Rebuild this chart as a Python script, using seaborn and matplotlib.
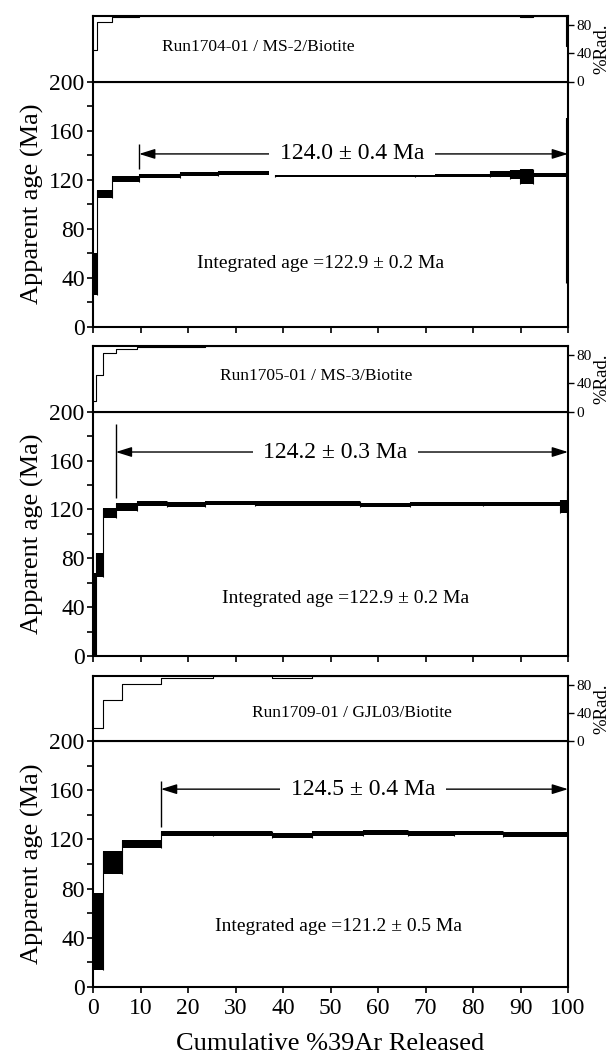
import matplotlib
matplotlib.use('Agg')
import matplotlib.pyplot as plt
import numpy as np
import seaborn as sns

# step boundaries (cumulative %39Ar), apparent ages, half widths, %Rad
bounds1 = [0, 0.8, 3.9, 9.7, 18.3, 26.4, 38.3, 67.8, 83.6, 87.8, 89.9, 92.6, 99.5, 100]
age1 = [43, 108.5, 120.5, 123.3, 124.5, 125.3, 123.8, 123.3, 124.6, 124.6, 122.7, 123.8, 103]
err1 = [17, 3.5, 2.3, 1.7, 1.7, 1.5, 1.6, 1.5, 2.5, 3.7, 6.3, 1.6, 67]
rad1 = [45, 85, 91, 92.5, 92.5, 92.5, 92.5, 92.5, 92.5, 92.5, 91.5, 92.5, 50]

bounds2 = [0, 0.6, 2.0, 4.8, 9.3, 15.5, 23.6, 34.1, 56.2, 66.7, 82, 98.3, 99.7, 100]
age2 = [30, 74.5, 117.3, 122, 125, 124, 125.5, 125, 123.3, 124.3, 124.5, 122.2, 125]
err2 = [38, 9.8, 4.1, 3, 2.2, 1.8, 1.8, 1.8, 1.6, 1.6, 1.6, 5.5, 11]
rad2 = [15, 52, 82.5, 88.6, 91.5, 92, 92.5, 92.5, 92.5, 92.5, 92.5, 92.5, 92.5]

bounds3 = [0, 2, 6, 14.3, 25.3, 37.6, 46, 56.9, 66.4, 75.9, 86.4, 100]
age3 = [45, 101.3, 116.2, 124.9, 125, 123.3, 125, 126, 125, 125.2, 124]
err3 = [31.4, 9.4, 3.4, 2, 2, 2.3, 2, 2, 2, 1.8, 1.7]
rad3 = [18.5, 58.7, 81, 89.5, 92.5, 90, 92.5, 92.5, 92.5, 92.5, 92.5]

run_labels = ['Run1704-01 / MS-2/Biotite', 'Run1705-01 / MS-3/Biotite', 'Run1709-01 / GJL03/Biotite']
plateau_labels = ['124.0 \u00b1 0.4 Ma', '124.2 \u00b1 0.3 Ma', '124.5 \u00b1 0.4 Ma']
integrated_labels = ['Integrated age =122.9 \u00b1 0.2 Ma', 'Integrated age =122.9 \u00b1 0.2 Ma',
                     'Integrated age =121.2 \u00b1 0.5 Ma']
plateau_start = [9.7, 4.8, 14.3]
plateau_tick = [(129, 149), (129, 190), (130.5, 168)]
plateau_y = [141, 167, 161]
plateau_text_x = [54.5, 51, 56.8]
run_pos = [(34.7, 49), (47, 50), (54.5, 40)]
integ_pos = [(48, 52), (53.2, 47), (51.6, 49)]

sns.set_theme(style='ticks', rc={'axes.edgecolor': 'black', 'xtick.color': 'black',
                                 'ytick.color': 'black', 'text.color': 'black',
                                 'axes.labelcolor': 'black'})
plt.rcParams['font.family'] = ['Liberation Serif', 'DejaVu Serif']
plt.rcParams['axes.linewidth'] = 1.5

fig = plt.figure(figsize=(6.13, 10.57), dpi=100)
H = 1057.0
L, W = 93 / 613, 475 / 613
# (top, boundary, bottom) in pixels
rows = [(16, 81.5, 327), (346, 411.7, 656), (676, 741.3, 986.7)]

data = [(bounds1, age1, err1, rad1), (bounds2, age2, err2, rad2), (bounds3, age3, err3, rad3)]

for i, ((top, mid, bot), (b, a, e, r)) in enumerate(zip(rows, data)):
    ax = fig.add_axes([L, 1 - bot / H, W, (bot - mid) / H])
    axr = fig.add_axes([L, 1 - mid / H, W, (mid - top) / H], sharex=ax)

    b = np.array(b, float)
    a = np.array(a, float)
    e = np.array(e, float)
    lo, hi = a - e, a + e
    # age spectrum boxes
    ax.bar(b[:-1], 2 * e, width=np.diff(b), bottom=lo, align='edge', color='black', linewidth=0)
    # connectors between steps
    ax.vlines(b[1:-1], np.minimum(lo[:-1], lo[1:]), np.maximum(hi[:-1], hi[1:]),
              colors='black', linewidth=0.8)

    # plateau marker
    x0 = plateau_start[i]
    ax.vlines(x0, *plateau_tick[i], colors='black', linewidth=1)
    ax.annotate('', xy=(x0, plateau_y[i]), xytext=(100, plateau_y[i]),
                arrowprops=dict(arrowstyle='<|-|>,head_length=0.8,head_width=0.25',
                                color='black', lw=1, shrinkA=0, shrinkB=0),
                annotation_clip=False, zorder=2)
    ax.text(plateau_text_x[i], plateau_y[i], plateau_labels[i], ha='center', va='center',
            fontsize=17, zorder=4,
            bbox=dict(boxstyle='square,pad=0.45', fc='white', ec='none'))
    ax.text(*integ_pos[i], integrated_labels[i], ha='center', va='center', fontsize=14)

    ax.set_xlim(0, 100)
    ax.set_ylim(0, 200)
    ax.set_yticks(np.arange(0, 201, 40))
    ax.set_yticks(np.arange(20, 200, 40), minor=True)
    ax.set_xticks(np.arange(0, 101, 10))
    ax.tick_params(axis='both', which='both', direction='out', length=4, width=1.2,
                   labelsize=17, pad=2)
    ax.tick_params(axis='x', pad=4)
    ax.set_ylabel('Apparent age (Ma)', fontsize=19, labelpad=4)
    if i < 2:
        ax.tick_params(axis='x', labelbottom=False)
    else:
        ax.set_xlabel('Cumulative %39Ar Released', fontsize=19, labelpad=10)

    # %Rad inset
    rr = list(r) + [r[-1]]
    sns.lineplot(x=b, y=rr, drawstyle='steps-post', color='black', linewidth=0.8, ax=axr)
    axr.set_ylim(0, 93)
    axr.set_yticks([0, 40, 80])
    axr.yaxis.tick_right()
    axr.yaxis.set_label_position('right')
    axr.tick_params(axis='y', direction='out', length=4, width=1, labelsize=11, pad=2)
    axr.tick_params(axis='x', bottom=False, labelbottom=False)
    axr.set_ylabel('%Rad.', fontsize=13.5, labelpad=1)
    axr.text(*run_pos[i], run_labels[i], ha='center', va='center', fontsize=12.5)

fig.savefig('out.png', dpi=100)
